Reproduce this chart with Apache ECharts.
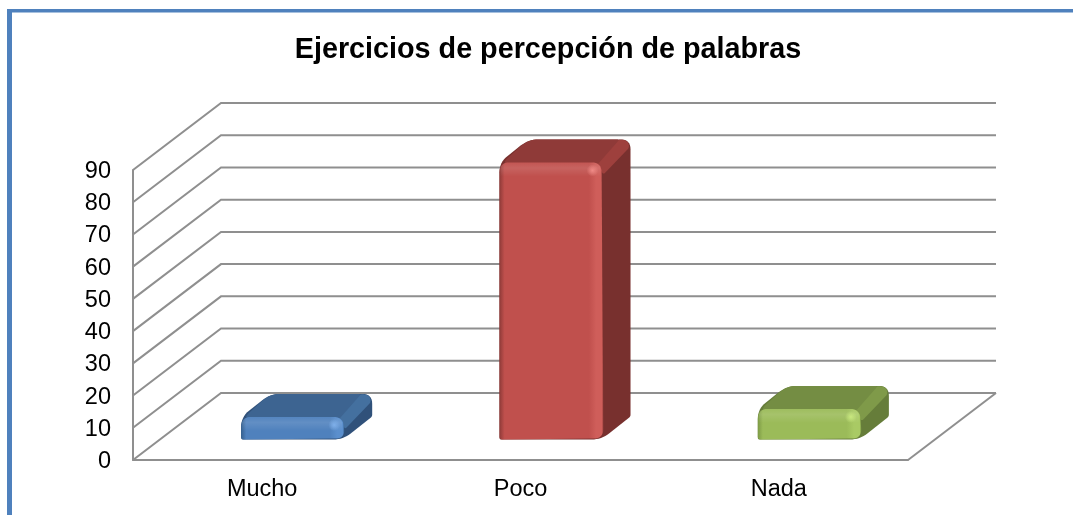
<!DOCTYPE html>
<html>
<head>
<meta charset="utf-8">
<script src="https://cdn.jsdelivr.net/npm/echarts@6/dist/echarts.min.js"></script>
<style>html,body{margin:0;padding:0;background:#fff}#c{width:1073px;height:515px}</style>
</head>
<body>
<div id="c"></div>
<script>
const categories = ['Mucho', 'Poco', 'Nada'];
const values = [7, 86, 9.5];
const yTicks = [0, 10, 20, 30, 40, 50, 60, 70, 80, 90];
const titleText = 'Ejercicios de percepción de palabras';

const palette = [
  {front:'#4f81bd', edge:'#5b8fcd', dark:'#35608f', top:'#3d6491', side:'#30517a', band:'#44709f', glow:'#7fb0ea'},
  {front:'#c0504d', edge:'#cf5e5a', dark:'#8f3a38', top:'#8f3a38', side:'#78302e', band:'#9e403d', glow:'#f08a86'},
  {front:'#9bbb59', edge:'#a9ca64', dark:'#7d9a45', top:'#748d43', side:'#667d3a', band:'#7f9a49', glow:'#c9e97f'}
];
const wallDx = 88, wallDy = -67, barDx = 29, barDy = -23, baseDx = 30, baseDy = -20.5;
const gridColor = '#8f8f8f';

function rounded(pts, radii) {
  const out = [], n = pts.length;
  for (let i = 0; i < n; i++) {
    const c = pts[i], p = pts[(i + n - 1) % n], q = pts[(i + 1) % n];
    const r = Array.isArray(radii) ? radii[i] : radii;
    const lp = Math.hypot(p[0]-c[0], p[1]-c[1]), lq = Math.hypot(q[0]-c[0], q[1]-c[1]);
    const rp = Math.min(r, lp/2), rq = Math.min(r, lq/2);
    const a = [c[0]+(p[0]-c[0])*rp/(lp||1), c[1]+(p[1]-c[1])*rp/(lp||1)];
    const b = [c[0]+(q[0]-c[0])*rq/(lq||1), c[1]+(q[1]-c[1])*rq/(lq||1)];
    for (let t = 0; t <= 8; t++) {
      const u = t/8, v = 1-u;
      out.push([v*v*a[0]+2*u*v*c[0]+u*u*b[0], v*v*a[1]+2*u*v*c[1]+u*u*b[1]]);
    }
  }
  return out;
}
const G = echarts.graphic;

function renderWall(params, api) {
  const v = api.value(0);
  const cs = params.coordSys;
  const y = api.coord([0, v])[1];
  const x0 = cs.x, xb = x0 + wallDx, yb = y + wallDy, xr = cs.x + cs.width + wallDx;
  const style = {stroke: gridColor, lineWidth: 2, fill: 'none'};
  const children = [{type:'polyline', shape:{points:[[x0,y],[xb,yb],[xr,yb]]}, style}];
  if (v === 0) {
    children.push({type:'line', shape:{x1:cs.x+cs.width, y1:y, x2:xr, y2:yb}, style});
  }
  return {type:'group', children};
}

function renderBar(params, api) {
  const i = api.value(0), val = api.value(1);
  const p = palette[i];
  const top = api.coord([i, val]), base = api.coord([i, 0]);
  const w = api.size([1, 0])[0] * 0.395;
  const x0 = base[0] + baseDx - w/2, x1 = x0 + w;
  const yB = base[1] + baseDy, yT = top[1] + baseDy;
  const h = yB - yT;
  const r = 10;
  const children = [];
  // side + top silhouette
  children.push({type:'polygon', shape:{points: rounded([
    [x0,yB],[x0,yT],[x0+barDx,yT+barDy],[x1+barDx,yT+barDy],[x1+barDx,yB+barDy],[x1,yB]
  ], [2,r,r,r,2,r])}, style:{fill:p.side}});
  // bevel band along the top right edge
  children.push({type:'polygon', shape:{points: rounded([
    [x1-6,yT+1],[x1+barDx-12,yT+barDy],[x1+barDx-3,yT+barDy+1],[x1+barDx-1,yT+barDy+8],[x1+2,yT+12]
  ], [2,3,6,3,2])}, style:{fill:p.band}});
  // top face
  children.push({type:'polygon', shape:{points: rounded([
    [x0+1,yT+2],[x0+barDx,yT+barDy],[x1+barDx-11,yT+barDy],[x1-4,yT+2]
  ], [r,r,3,2])}, style:{fill:p.top}});
  // front face
  const e = 5/w;
  children.push({type:'polygon', shape:{points: rounded([
    [x0,yB],[x0,yT],[x1,yT],[x1+2,yB-1]
  ], [3,r,r,r])}, style:{fill:new G.LinearGradient(0,0,1,0,[
    {offset:0, color:p.dark},
    {offset:e, color:p.front},
    {offset:0.86, color:p.front},
    {offset:0.93, color:p.edge},
    {offset:0.985, color:p.edge},
    {offset:1, color:p.dark}
  ])}});
  // top bevel highlight on the front face
  children.push({type:'polygon', shape:{points: rounded([
    [x0+1,yT+Math.min(14,h)],[x0+1,yT],[x1-1,yT],[x1-1,yT+Math.min(14,h)]
  ], [0,r,r,0])}, style:{fill:new G.LinearGradient(0,0,0,1,[
    {offset:0, color:'rgba(255,255,255,0.03)'},
    {offset:0.4, color:'rgba(255,255,255,0.11)'},
    {offset:1, color:'rgba(255,255,255,0)'}
  ])}});
  // corner glint
  children.push({type:'circle', shape:{cx:x1-9, cy:yT+8, r:6}, style:{fill:new G.RadialGradient(0.5,0.5,0.5,[
    {offset:0, color:p.glow},{offset:1, color:p.glow+'00'}
  ])}});
  return {type:'group', children};
}

const chart = echarts.init(document.getElementById('c'), null, {renderer:'canvas'});
chart.setOption({
  animation: false,
  backgroundColor: '#ffffff',
  textStyle: {fontFamily: '"Liberation Sans", Arial, sans-serif'},
  title: {
    text: titleText,
    left: 543, top: 31, textAlign: 'center',
    textStyle: {fontFamily:'"Liberation Sans", Arial, sans-serif', fontSize:28.75, fontWeight:'bold', color:'#000'}
  },
  graphic: [
    {type:'rect', shape:{x:7, y:9, width:5, height:506}, style:{fill:'#4f81bd'}},
    {type:'rect', shape:{x:7, y:9, width:1066, height:3.5}, style:{fill:'#4f81bd'}}
  ],
  grid: {left:133, right:165, top:170, bottom:55},
  xAxis: {
    type:'category', data:categories,
    axisLine:{lineStyle:{color:gridColor, width:2}},
    axisTick:{show:false},
    axisLabel:{color:'#000', fontSize:23.5, margin:18, fontFamily:'"Liberation Sans", Arial, sans-serif'}
  },
  yAxis: {
    type:'value', min:0, max:90, interval:10,
    axisLine:{show:true, lineStyle:{color:gridColor, width:2}},
    axisTick:{show:false},
    splitLine:{show:false},
    axisLabel:{color:'#000', fontSize:23.5, margin:22, verticalAlign:'top', lineHeight:3, fontFamily:'"Liberation Sans", Arial, sans-serif'}
  },
  series: [
    {type:'custom', name:'grid', coordinateSystem:'cartesian2d', clip:false, silent:true, z:1,
     encode:{y:0}, data:yTicks.map(v => [v]), renderItem:renderWall},
    {type:'custom', name:'bars', coordinateSystem:'cartesian2d', clip:false, z:3,
     encode:{x:0, y:1}, data:values.map((v,i) => [i, v]), renderItem:renderBar}
  ]
});
</script>
</body>
</html>
